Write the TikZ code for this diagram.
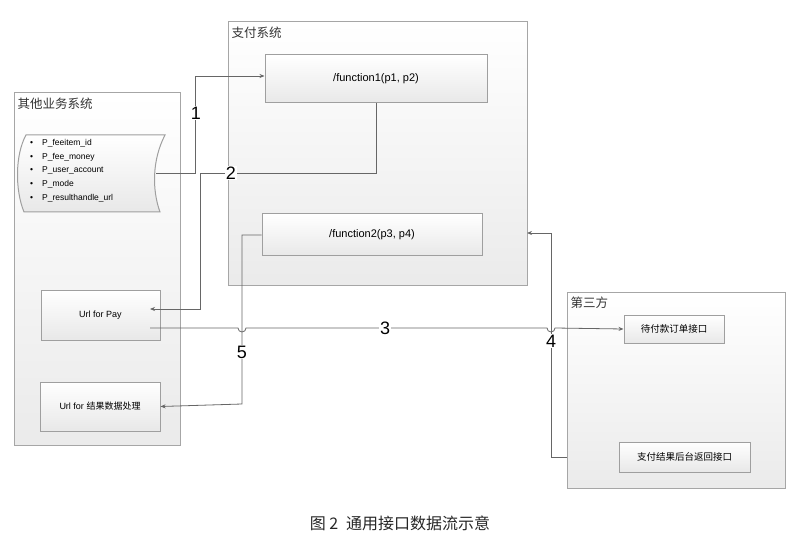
\documentclass[tikz,border=0pt]{standalone}
\usepackage{fontspec}
\setmainfont{Liberation Sans}
\newfontfamily\cjk{Noto Sans CJK SC}
\usetikzlibrary{arrows.meta}
\begin{document}
\begin{tikzpicture}[x=1pt,y=-1pt,
  box/.style={draw=gray!70,line width=1pt,top color=white,bottom color=gray!16},
  inner/.style={draw=gray!75,line width=1pt,top color=white,bottom color=gray!18,font=\fontsize{11}{12}\selectfont},
  conn/.style={draw=gray!80!black,line width=0.8pt},
  arr/.style={conn,-{Stealth[length=5pt,width=4pt]}},
  num/.style={fill=white,inner sep=1pt,font=\fontsize{18}{18}\selectfont},
  ttl/.style={anchor=north west,font=\cjk\fontsize{12.5}{13}\selectfont,text=gray!40!black}]
\useasboundingbox (0,0) rectangle (800,545);
\path[box] (14,93) rectangle (180,445);
\node[ttl] (t1) at (14,94) {其他业务系统};
\path[box] (228,22) rectangle (527,285);
\node[ttl] (t2) at (228,23) {支付系统};
\path[box] (567,292) rectangle (785,488);
\node[ttl] (t3) at (567,293) {第三方};
% nodes
\node[inner,minimum width=222,minimum height=48] (f1) at (376,79) {/function1(p1, p2)};
\node[inner,minimum width=220,minimum height=42] (f2) at (372,235) {/function2(p3, p4)};
\node[inner,minimum width=100,minimum height=28,font=\cjk\fontsize{9.5}{10}\selectfont] (q) at (674,329) {待付款订单接口};
\node[inner,minimum width=131,minimum height=30,font=\cjk\fontsize{9.5}{10}\selectfont] (r) at (684.5,457) {支付结果后台返回接口};
\node[inner,minimum width=119,minimum height=50,font=\fontsize{9}{10}\selectfont] (u1) at (100.5,315) {Url for Pay};
\node[inner,minimum width=120,minimum height=49,font=\fontsize{9}{10}\selectfont] (u2) at (100,406.5) {Url for {\cjk 结果数据处理}};
% param shape
\path[inner] (26,135) -- (165,135) .. controls (152,160) and (152,190) .. (160,212) -- (24,212) .. controls (15,190) and (15,155) .. (26,135) -- cycle;
\node[anchor=north west,inner sep=0pt,font=\fontsize{8.5}{13.7}\selectfont,align=left] (pl) at (30,139) {%
\textbullet\hspace{9pt}P\_feeitem\_id\\ \textbullet\hspace{9pt}P\_fee\_money\\ \textbullet\hspace{9pt}P\_user\_account\\ \textbullet\hspace{9pt}P\_mode\\ \textbullet\hspace{9pt}P\_resulthandle\_url};
\coordinate (pr) at (156,173);
% connectors
\draw[arr] (pr) -- (195,173) -- (195,76) -- (f1.west|-0,76);
\node[num] (n1) at (196,113) {1};
\draw[arr] (f1.south) -- (376,173) -- (200,173) -- (200,309) -- (150,309);
\node[num] (n2) at (231,173) {2};
\draw[arr] (150,328) -- (238,328) arc[start angle=180,end angle=0,radius=4] -- (547,328) arc[start angle=180,end angle=0,radius=4] -- (q.west);
\node[num] (n3) at (385,328) {3};
\draw[arr] (r.west-|567,457) -- (551,457) -- (551,233) -- (527,233);
\node[num] (n4) at (551,341) {4};
\draw[arr] (f2.west) -- (242,235) -- (242,404) -- (u2.east);
\node[num] (n5) at (242,352) {5};
\node[font=\cjk\fontsize{16}{16}\selectfont,text=gray!30!black] (cap) at (400,523) {图 2\enspace 通用接口数据流示意};
\end{tikzpicture}
\end{document}
